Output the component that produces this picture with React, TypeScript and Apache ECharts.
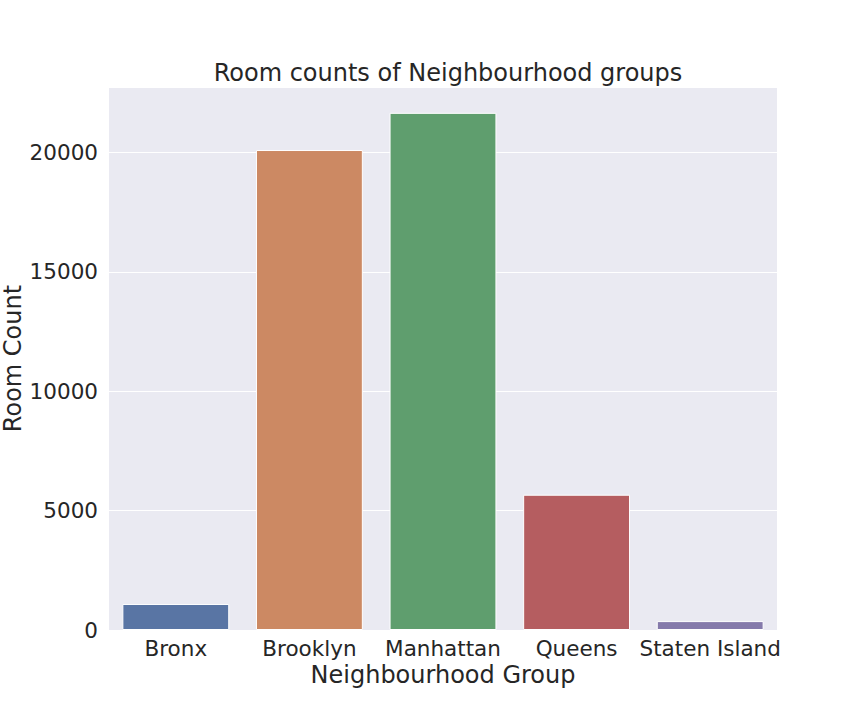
import React, { useEffect, useRef } from "react";
import * as echarts from "echarts";

const categories = ["Bronx", "Brooklyn", "Manhattan", "Queens", "Staten Island"];
const roomCounts = [1091, 20104, 21661, 5666, 373];
const barColors = ["#5975a4", "#cc8963", "#5f9e6e", "#b55d60", "#857aab"];
const yTicks = [0, 5000, 10000, 15000, 20000];

export default function App() {
  const ref = useRef<HTMLDivElement>(null);
  useEffect(() => {
    if (!ref.current) return;
    const chart = echarts.init(ref.current, undefined, { renderer: "svg" });
    const font = "DejaVu Sans";
    chart.setOption({
      animation: false,
      backgroundColor: "#ffffff",
      textStyle: { fontFamily: font, color: "#262626" },
      title: {
        text: "Room counts of Neighbourhood groups",
        left: 443,
        textAlign: "center",
        top: 56,
        textStyle: { fontFamily: font, fontSize: 24, fontWeight: "normal", color: "#262626" },
      },
      grid: {
        left: 109,
        right: 87,
        top: 87,
        bottom: 90,
        backgroundColor: "#eaeaf2",
        show: true,
        borderWidth: 0,
        containLabel: false,
        outerBoundsMode: "none",
      },
      xAxis: {
        type: "category",
        data: categories,
        name: "Neighbourhood Group",
        nameLocation: "middle",
        nameGap: 33,
        nameMoveOverlap: false,
        nameTextStyle: { fontFamily: font, fontSize: 24, color: "#262626" },
        axisLine: { show: false },
        axisTick: { show: false },
        axisLabel: { fontFamily: font, fontSize: 21.5, color: "#262626", margin: 7, interval: 0 },
        splitLine: { show: false },
      },
      yAxis: {
        type: "value",
        min: 0,
        max: Math.max(...roomCounts) * 1.05,
        interval: yTicks[1] - yTicks[0],
        name: "Room Count",
        nameLocation: "middle",
        nameGap: 85,
        nameMoveOverlap: false,
        nameTextStyle: { fontFamily: font, fontSize: 24, lineHeight: 22, color: "#262626" },
        axisLine: { show: false },
        axisTick: { show: false },
        axisLabel: {
          fontFamily: font,
          fontSize: 21.5,
          color: "#262626",
          margin: 11,
          showMaxLabel: false,
          formatter: (v: number) => (yTicks.includes(v) ? String(v) : ""),
        },
        splitLine: { show: true, lineStyle: { color: "#ffffff", width: 1 } },
      },
      series: [
        {
          type: "bar",
          data: roomCounts.map((v, i) => ({ value: v, itemStyle: { color: barColors[i] } })),
          barCategoryGap: "20%",
          itemStyle: { borderColor: "#ffffff", borderWidth: 1 },
        },
      ],
    });
    return () => chart.dispose();
  }, []);
  return <div ref={ref} style={{ position: "fixed", left: 0, top: 0, width: 864, height: 720 }} />;
}
